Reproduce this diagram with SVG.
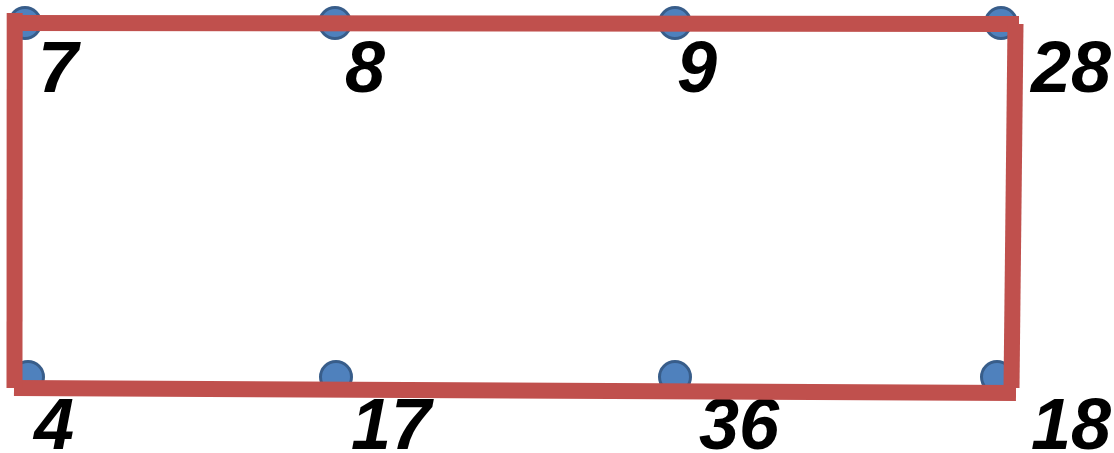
<svg xmlns="http://www.w3.org/2000/svg" width="1114" height="453" viewBox="0 0 1114 453">
<style>
.dot{fill:#4F81BD;stroke:#385D8A;stroke-width:3}
.lbl{font-family:"Liberation Sans",Arial,sans-serif;font-weight:bold;font-style:italic;font-size:72px;fill:#000}
.edge{stroke:#C0504D;stroke-width:16;fill:none;stroke-linecap:butt}
</style>
<rect width="1114" height="453" fill="#fff"/>
<g id="n7"><circle class="dot" cx="25" cy="23" r="15.5"/><text class="lbl" x="38" y="92">7</text></g>
<g id="n8"><circle class="dot" cx="335" cy="23" r="15.5"/><text class="lbl" x="345" y="92">8</text></g>
<g id="n9"><circle class="dot" cx="675" cy="23" r="15.5"/><text class="lbl" x="677" y="92">9</text></g>
<g id="n28"><circle class="dot" cx="1001" cy="23" r="15.5"/><text class="lbl" x="1031" y="92">28</text></g>
<g id="n4"><circle class="dot" cx="28" cy="377" r="15.5"/><text class="lbl" x="34" y="449">4</text></g>
<g id="n17"><circle class="dot" cx="336" cy="377" r="15.5"/><text class="lbl" x="351" y="449">17</text></g>
<g id="n36"><circle class="dot" cx="675" cy="377" r="15.5"/><text class="lbl" x="699" y="449">36</text></g>
<g id="n18"><circle class="dot" cx="997" cy="377" r="15.5"/><text class="lbl" x="1031" y="449">18</text></g>
<g id="connectors">
<line class="edge" x1="7" y1="23" x2="1019" y2="24"/>
<line class="edge" x1="1015.5" y1="24" x2="1011.5" y2="388"/>
<line class="edge" x1="14" y1="388" x2="1016" y2="393"/>
<line class="edge" x1="14.7" y1="13" x2="14.5" y2="388"/>
</g>
</svg>
